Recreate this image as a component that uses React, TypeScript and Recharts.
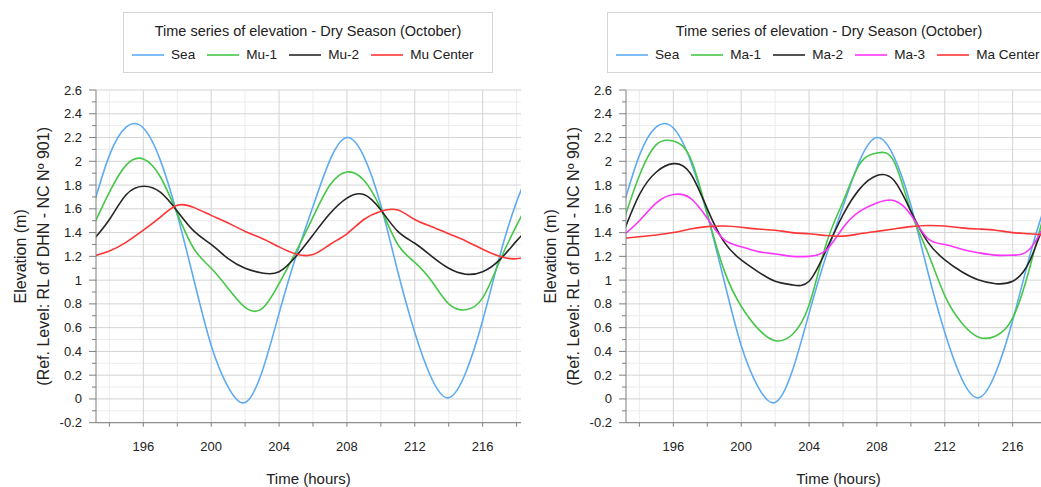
import { LineChart, Line, XAxis, YAxis, CartesianGrid } from "recharts";

// hourly samples
const HOURS = [
  193, 194, 195, 196, 197, 198, 199, 200, 201, 202, 203, 204, 205, 206,
  207, 208, 209, 210, 211, 212, 213, 214, 215, 216, 217, 218, 219,
];

const SEA = [
  1.6, 2.05, 2.29, 2.28, 2.01, 1.55, 0.99, 0.45, 0.1, -0.03, 0.23, 0.72, 1.2, 1.62,
  2.01, 2.2, 2.04, 1.63, 1.07, 0.56, 0.17, 0.01, 0.22, 0.66, 1.2, 1.66, 2.0,
];
const MU_1 = [
  1.44, 1.74, 1.97, 2.02, 1.87, 1.56, 1.26, 1.1, 0.93, 0.77, 0.76, 0.97, 1.24, 1.53,
  1.8, 1.91, 1.84, 1.6, 1.3, 1.15, 0.99, 0.8, 0.75, 0.85, 1.16, 1.46, 1.74,
];
const MU_2 = [
  1.33, 1.51, 1.72, 1.79, 1.74, 1.58, 1.41, 1.3, 1.18, 1.1, 1.06, 1.07, 1.2, 1.38,
  1.56, 1.69, 1.72, 1.59, 1.41, 1.31, 1.2, 1.1, 1.05, 1.07, 1.17, 1.33, 1.48,
];
const MU_CENTER = [
  1.2, 1.245, 1.32, 1.42, 1.53, 1.63, 1.61, 1.545, 1.48, 1.41, 1.35, 1.28, 1.22, 1.215,
  1.3, 1.39, 1.51, 1.58, 1.59, 1.51, 1.45, 1.39, 1.33, 1.26, 1.2, 1.18, 1.22,
];
const MA_1 = [
  1.47, 1.88, 2.14, 2.17, 2.03, 1.56, 1.08, 0.78, 0.59, 0.49, 0.54, 0.79, 1.3, 1.66,
  1.98, 2.07, 2.0, 1.58, 1.23, 0.87, 0.64, 0.52, 0.53, 0.68, 1.1, 1.62, 1.95,
];
const MA_2 = [
  1.38, 1.72, 1.91, 1.98, 1.9, 1.6, 1.32, 1.17, 1.07, 0.99, 0.96, 0.99, 1.25, 1.55,
  1.77, 1.88, 1.84, 1.58, 1.32, 1.17, 1.07, 1.0, 0.97, 0.99, 1.16, 1.52, 1.75,
];
const MA_3 = [
  1.37, 1.5, 1.65, 1.72, 1.69, 1.52, 1.34, 1.28, 1.24, 1.22, 1.2, 1.2, 1.25, 1.44,
  1.58, 1.65, 1.67, 1.55, 1.35, 1.3, 1.26, 1.23, 1.21, 1.21, 1.26, 1.48, 1.62,
];
const MA_CENTER = [
  1.35, 1.365, 1.38, 1.4, 1.43, 1.45, 1.455, 1.445, 1.43, 1.42, 1.4, 1.39, 1.375, 1.37,
  1.39, 1.41, 1.43, 1.45, 1.46, 1.455, 1.44, 1.43, 1.42, 1.4, 1.39, 1.38, 1.38,
];

const X_MAJOR = [196, 200, 204, 208, 212, 216];
const X_MINOR = [194, 198, 202, 206, 210, 214, 218];
const Y_MAJOR = [-0.2, 0, 0.2, 0.4, 0.6, 0.8, 1, 1.2, 1.4, 1.6, 1.8, 2, 2.2, 2.4, 2.6];
const Y_MINOR = [-0.1, 0.1, 0.3, 0.5, 0.7, 0.9, 1.1, 1.3, 1.5, 1.7, 1.9, 2.1, 2.3, 2.5];

const TITLE = "Time series of elevation - Dry Season (October)";
const X_LABEL = "Time (hours)";
const Y_LABEL_1 = "Elevation (m)";
const Y_LABEL_2 = "(Ref. Level: RL of DHN - NC Nº 901)";

const FONT = '"Liberation Sans", Arial, Helvetica, sans-serif';
const AXIS = "#7f7f7f";
const TEXT = "#222";

interface Series {
  key: string;
  name: string;
  color: string;
  values: number[];
}

const MU_SERIES: Series[] = [
  { key: "sea", name: "Sea", color: "#5eabf3", values: SEA },
  { key: "mu1", name: "Mu-1", color: "#47c747", values: MU_1 },
  { key: "mu2", name: "Mu-2", color: "#262626", values: MU_2 },
  { key: "muc", name: "Mu Center", color: "#ff3535", values: MU_CENTER },
];

const MA_SERIES: Series[] = [
  { key: "sea", name: "Sea", color: "#5eabf3", values: SEA },
  { key: "ma1", name: "Ma-1", color: "#47c747", values: MA_1 },
  { key: "ma2", name: "Ma-2", color: "#262626", values: MA_2 },
  { key: "ma3", name: "Ma-3", color: "#fb35fb", values: MA_3 },
  { key: "mac", name: "Ma Center", color: "#ff3535", values: MA_CENTER },
];

function buildRows(series: Series[]) {
  return HOURS.map((t, i) => {
    const row: Record<string, number> = { t };
    series.forEach((s) => (row[s.key] = s.values[i]));
    return row;
  });
}

function fmt(v: number) {
  return String(Math.round(v * 10) / 10);
}

function XTick(props: any) {
  const { x, y, payload } = props;
  const major = X_MAJOR.includes(payload.value);
  return (
    <g>
      <line x1={x} x2={x} y1={y} y2={y + 4} stroke={AXIS} />
      {major && (
        <text x={x} y={y + 24} textAnchor="middle" dominantBaseline="central"
          fontSize={13} fill={TEXT} fontFamily={FONT}>
          {payload.value}
        </text>
      )}
    </g>
  );
}

function YTick(props: any) {
  const { x, y, payload } = props;
  const major = Y_MAJOR.some((v) => Math.abs(v - payload.value) < 1e-6);
  return (
    <g>
      <line x1={x} x2={x - (major ? 7 : 4)} y1={y} y2={y} stroke={AXIS} />
      {major && (
        <text x={x - 14} y={y} textAnchor="end" dominantBaseline="central"
          fontSize={13} fill={TEXT} fontFamily={FONT}>
          {fmt(payload.value)}
        </text>
      )}
    </g>
  );
}

function YLabel(props: any) {
  const { x, y, height } = props.viewBox;
  const cy = y + height / 2;
  const lines = [
    { text: Y_LABEL_1, cx: x + 21 },
    { text: Y_LABEL_2, cx: x + 44 },
  ];
  return (
    <g>
      {lines.map((l) => (
        <text key={l.text} x={l.cx} y={cy} transform={`rotate(-90 ${l.cx} ${cy})`}
          textAnchor="middle" dominantBaseline="central" fontSize={16}
          fill={TEXT} fontFamily={FONT}>
          {l.text}
        </text>
      ))}
    </g>
  );
}

function XLabel(props: any) {
  const { x, y, width } = props.viewBox;
  return (
    <text x={x + width / 2} y={y + 55.5} textAnchor="middle" dominantBaseline="central"
      fontSize={15} fill={TEXT} fontFamily={FONT}>
      {X_LABEL}
    </text>
  );
}

function LegendBox({ left, width, series }: { left: number; width: number; series: Series[] }) {
  return (
    <div style={{
      position: "absolute", left, top: 12, width, height: 61, boxSizing: "border-box",
      border: "1px solid #d6d6d6", background: "#fff", fontFamily: FONT, color: TEXT,
    }}>
      <div style={{ position: "absolute", top: 8, left: 0, right: 0, textAlign: "center", fontSize: 14.5, lineHeight: "20px" }}>
        {TITLE}
      </div>
      <div style={{ position: "absolute", top: 32, left: 8, display: "flex", alignItems: "center", whiteSpace: "nowrap", fontSize: 13.6, lineHeight: "20px" }}>
        {series.map((s) => (
          <div key={s.key} style={{ display: "flex", alignItems: "center", marginRight: 12 }}>
            <svg width={32} height={4} style={{ marginRight: 7, display: "block" }}>
              <line x1={0} x2={32} y1={2} y2={2} stroke={s.color} strokeWidth={1.6} />
            </svg>
            <span>{s.name}</span>
          </div>
        ))}
      </div>
    </div>
  );
}

function Panel({ left, series }: { left: number; series: Series[] }) {
  const rows = buildRows(series);
  return (
    <div style={{ position: "absolute", left, top: 0 }}>
      <LineChart width={521} height={487} data={rows} margin={{ top: 90, right: 0, bottom: 0, left: 0 }}>
        <CartesianGrid stroke="#ececec" horizontalValues={Y_MINOR} verticalValues={X_MINOR} />
        <CartesianGrid stroke="#d3d3d3" horizontalValues={Y_MAJOR} verticalValues={X_MAJOR} />
        <XAxis
          dataKey="t"
          type="number"
          domain={[193.21, 218.26]}
          allowDataOverflow
          ticks={[...X_MINOR, ...X_MAJOR].sort((a, b) => a - b)}
          interval={0}
          height={64.3}
          tickSize={0}
          tickMargin={0}
          tickLine={false}
          axisLine={{ stroke: AXIS }}
          tick={(p: any) => <XTick {...p} />}
          label={{ content: (p: any) => <XLabel {...p} /> }}
        />
        <YAxis
          type="number"
          domain={[-0.2, 2.6]}
          allowDataOverflow
          ticks={[...Y_MINOR, ...Y_MAJOR].sort((a, b) => a - b)}
          interval={0}
          width={96}
          tickSize={0}
          tickMargin={0}
          tickLine={false}
          axisLine={{ stroke: AXIS }}
          tick={(p: any) => <YTick {...p} />}
          label={{ content: (p: any) => <YLabel {...p} /> }}
        />
        {series.map((s) => (
          <Line
            key={s.key}
            dataKey={s.key}
            name={s.name}
            type="natural"
            stroke={s.color}
            strokeWidth={1.6}
            dot={false}
            activeDot={false}
            isAnimationActive={false}
          />
        ))}
      </LineChart>
    </div>
  );
}

export default function App() {
  return (
    <div style={{
      position: "fixed", left: 0, top: 0, width: 1041, height: 487,
      overflow: "hidden", background: "#fff", fontFamily: FONT,
    }}>
      <Panel left={0} series={MU_SERIES} />
      <Panel left={530} series={MA_SERIES} />
      <LegendBox left={123} width={370} series={MU_SERIES} />
      <LegendBox left={607} width={444} series={MA_SERIES} />
    </div>
  );
}
